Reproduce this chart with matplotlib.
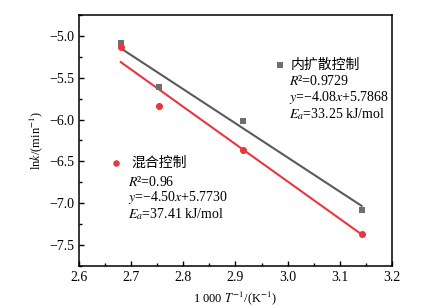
import matplotlib
matplotlib.use("Agg")
import matplotlib.pyplot as plt
import numpy as np
from matplotlib.ticker import MultipleLocator

plt.rcParams['font.family'] = ['Liberation Serif', 'Noto Sans CJK SC', 'DejaVu Sans']
plt.rcParams['mathtext.fontset'] = 'stix'

# data
x_vals = [2.680, 2.754, 2.915, 3.142]
y_diffusion = [-5.08, -5.61, -6.02, -7.08]
y_mixed = [-5.135, -5.84, -6.36, -7.37]
fit_diffusion = (-4.08, 5.7868)   # slope, intercept as drawn
fit_mixed = (-4.46, 6.64)          # slope, intercept as drawn
label_diffusion = ["内扩散控制", "$R$²=0.9729", "$y$=−4.08$x$+5.7868", "$E_a$=33.25 kJ/mol"]
label_mixed = ["混合控制", "$R$²=0.96", "$y$=−4.50$x$+5.7730", "$E_a$=37.41 kJ/mol"]

gray = '#6e6e6e'
gray_line = '#5a5a5a'
red = '#e8373e'

fig = plt.figure(figsize=(4.32, 3.07), dpi=100)
ax = fig.add_axes([0.183, 0.134, 0.724, 0.817])

xs = np.array([x_vals[0], x_vals[-1]])
ax.plot(xs, fit_diffusion[0] * xs + fit_diffusion[1], color=gray_line, lw=1.5, zorder=2)
ax.plot(xs, fit_mixed[0] * xs + fit_mixed[1], color=red, lw=1.5, zorder=2)
ax.scatter(x_vals, y_diffusion, marker='s', s=22, color=gray, zorder=3, linewidths=0)
ax.scatter(x_vals, y_mixed, marker='o', s=26, color=red, zorder=3, linewidths=0)

ax.set_xlim(2.6, 3.2)
ax.set_ylim(-7.75, -4.75)
ax.xaxis.set_minor_locator(MultipleLocator(0.05))
ax.yaxis.set_minor_locator(MultipleLocator(0.25))
ax.set_xticks(np.arange(2.6, 3.21, 0.1))
ax.set_xticklabels([f"{v:.1f}" for v in np.arange(2.6, 3.21, 0.1)])
ax.set_yticks(np.arange(-7.5, -4.9, 0.5))
ax.set_yticklabels([f"−{abs(v):.1f}" for v in np.arange(-7.5, -4.9, 0.5)])
ax.tick_params(which='both', direction='in', top=False, right=False, labelsize=10, width=1)
ax.tick_params(which='major', length=3.5)
ax.tick_params(which='minor', length=2)
for s in ax.spines.values():
    s.set_linewidth(1.1)

ax.set_xlabel("1 000 $T^{-1}$/(K$^{-1}$)", fontsize=9, labelpad=4)
ax.set_ylabel("ln$k$/(min$^{-1}$)", fontsize=9, labelpad=3)

# annotations
ax.scatter([2.985], [-5.347], marker='s', s=16, color=gray, linewidths=0)
ax.text(3.005, -5.347, label_diffusion[0], fontsize=10, va='center', ha='left')
for txt, yy in zip(label_diffusion[1:], [-5.54, -5.74, -5.93]):
    ax.text(3.002, yy, txt, fontsize=10, va='center', ha='left')

ax.scatter([2.671], [-6.52], marker='o', s=22, color=red, linewidths=0)
ax.text(2.700, -6.52, label_mixed[0], fontsize=10, va='center', ha='left')
for txt, yy in zip(label_mixed[1:], [-6.75, -6.93, -7.13]):
    ax.text(2.694, yy, txt, fontsize=10, va='center', ha='left')

fig.savefig("out.png", dpi=100)
